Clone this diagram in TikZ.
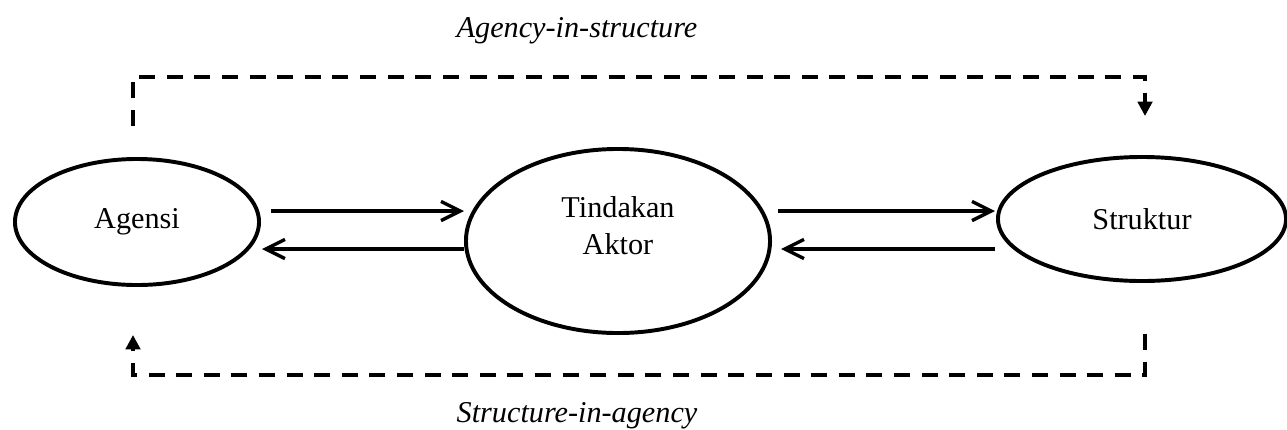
\documentclass[tikz,border=0pt]{standalone}
\usepackage{fontspec}
\setmainfont{Liberation Serif}
\usetikzlibrary{shapes.geometric, calc, arrows.meta}

\tikzset{
    bubble/.style={ellipse, draw, line width=2.8pt, inner sep=0pt},
    flow/.style={line width=2.4pt, -{Straight Barb[length=4.8mm, width=4.8mm, line width=2.4pt]}},
    loopback/.style={line width=2.5pt, dash pattern=on 0.4cm off 0.29cm,
        -{Triangle[length=3.6mm, width=3.6mm]}},
    caption/.style={font=\fontsize{21.5}{26.2}\selectfont\itshape, anchor=base}
}

\begin{document}
\begin{tikzpicture}[x=0.025cm, y=-0.025cm,
    font=\fontsize{21.5}{26.2}\selectfont]

    % page frame (pixel grid, y pointing down)
    \useasboundingbox (0,0) rectangle (1287,429);

    % --- the three ellipses ---
    \node[bubble, minimum width=6.1cm, minimum height=3.15cm] (agensi) at (137,222) {Agensi};
    \node[bubble, minimum width=7.6cm, minimum height=4.6cm] (aktor) at (618,241) {};
    \node[align=center] (aktortext) at ($(aktor.center)+(0,-15)$) {Tindakan\\Aktor};
    \node[bubble, minimum width=7.2cm, minimum height=3.1cm] (struktur) at (1142,219) {Struktur};

    % --- two-way arrows ---
    \draw[flow] ($(agensi.east)+(10,-11)$) -- ($(aktor.west)+(0,-30)$);
    \draw[flow] ($(aktor.west)+(0,8)$) -- ($(agensi.east)+(1,27)$);
    \draw[flow] ($(aktor.east)+(6,-30)$) -- ($(struktur.west)+(-1,-8)$);
    \draw[flow] ($(struktur.west)+(-1,30)$) -- ($(aktor.east)+(9,8)$);

    % --- dashed loops ---
    \draw[loopback] ($(agensi.north)+(-4,-31)$) -- ++(0,-49)
        -| ($(struktur.north)+(3,-39)$);
    \draw[loopback] ($(struktur.south)+(3,51)$) -- ++(0,41)
        -| ($(agensi.south)+(-4,48)$);

    % --- captions ---
    \node[caption] (top) at (577,37) {Agency-in-structure};
    \node[caption] (bottom) at (577,422) {Structure-in-agency};

\end{tikzpicture}
\end{document}
